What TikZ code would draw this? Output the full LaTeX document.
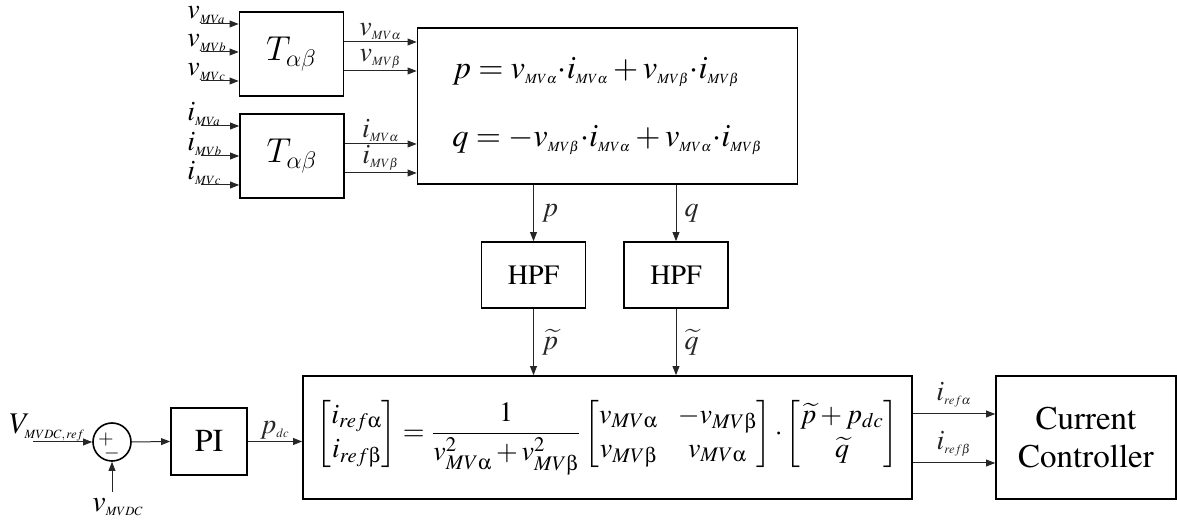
\documentclass[tikz,border=0pt]{standalone}
\usepackage{amsmath}
\usepackage{mathptmx}
\usepackage[T1]{fontenc}
\usetikzlibrary{arrows.meta}
\DeclareSymbolFont{cmletters}{OML}{cmm}{m}{it}
\DeclareMathSymbol{\cmT}{\mathalpha}{cmletters}{`T}
\DeclareMathSymbol{\cmalpha}{\mathord}{cmletters}{"0B}
\DeclareMathSymbol{\cmbeta}{\mathord}{cmletters}{"0C}
\DeclareSymbolFont{uprgreek}{U}{psy}{m}{n}
\DeclareMathSymbol{\ualpha}{\mathord}{uprgreek}{`a}
\DeclareMathSymbol{\ubeta}{\mathord}{uprgreek}{`b}
\newcommand{\tsub}[2][6.3]{_{\mbox{\fontsize{#1}{#1}\selectfont$#2$}}}

\begin{document}
\begin{tikzpicture}[
  x=0.5pt,y=-0.5pt,>={Triangle[length=4.5pt,width=3.4pt]},
  box/.style={rectangle,draw=black,line width=0.8pt,inner sep=2pt,align=center},
  edge/.style={->,line width=0.5pt,black!85},
  elabel/.style={inner sep=1pt,font=\fontsize{14}{16}\selectfont}
]
  \useasboundingbox (0,0) rectangle (1177,522);

  % Top row -- abc to alpha-beta
  \node[box,minimum width=52pt,minimum height=42pt,font=\fontsize{16}{18}\selectfont] (tv) at (291.5,54) {$\cmT_{\cmalpha\cmbeta}$};
  \node[box,minimum width=52pt,minimum height=42pt,font=\fontsize{16}{18}\selectfont] (ti) at (292,156) {$\cmT_{\cmalpha\cmbeta}$};
  \node[box,minimum width=190pt,minimum height=78pt,align=left,font=\fontsize{16.2}{19}\selectfont] (pq) at (607.5,106)
    {$p = v\tsub[7]{MV\alpha}{\cdot}i\tsub[7]{MV\alpha} + v\tsub[7]{MV\beta}{\cdot}i\tsub[7]{MV\beta}$\\[15pt]
     $q = -v\tsub[7]{MV\beta}{\cdot}i\tsub[7]{MV\alpha} + v\tsub[7]{MV\alpha}{\cdot}i\tsub[7]{MV\beta}$};

  % Middle row
  \node[box,minimum width=52pt,minimum height=33pt,font=\fontsize{14}{16}\selectfont] (hp) at (533.5,275) {HPF};
  \node[box,minimum width=52pt,minimum height=33pt,font=\fontsize{14}{16}\selectfont] (hq) at (676,275) {HPF};

  % Bottom row
  \node[circle,draw=black,line width=0.8pt,minimum size=19pt,inner sep=0pt] (sum) at (112,442) {};
  \node[box,minimum width=38pt,minimum height=33.5pt,font=\fontsize{16}{18}\selectfont] (pi) at (209,441.5) {PI};
  \node[box,minimum width=304.5pt,minimum height=61.5pt,font=\fontsize{14}{17}\selectfont] (ref) at (607.5,437.5)
    {$\displaystyle
     \begin{bmatrix} i_{ref\ualpha} \\ i_{ref\ubeta} \end{bmatrix}
     = \frac{1}{v_{MV\ualpha}^2 + v_{MV\ubeta}^2}
     \begin{bmatrix} v_{MV\ualpha} & -v_{MV\ubeta} \\ v_{MV\ubeta} & v_{MV\ualpha} \end{bmatrix}{\cdot}
     \begin{bmatrix} \widetilde{p} + p_{dc} \\ \widetilde{q} \end{bmatrix}$};
  \node[box,minimum width=90pt,minimum height=61.5pt,font=\fontsize{16.5}{19}\selectfont] (cc) at (1086,437.5) {Current\\Controller};

  % Inputs of the transforms
  \coordinate (va) at (201,24);  \coordinate (vb) at (201,52);  \coordinate (vc) at (201,81);
  \coordinate (ia) at (201,126); \coordinate (ib) at (201,156); \coordinate (ic) at (201,185);
  \draw[edge] (va) -- (va -| tv.west);
  \draw[edge] (vb) -- (vb -| tv.west);
  \draw[edge] (vc) -- (vc -| tv.west);
  \draw[edge] (ia) -- (ia -| ti.west);
  \draw[edge] (ib) -- (ib -| ti.west);
  \draw[edge] (ic) -- (ic -| ti.west);
  \node[elabel,anchor=base west,inner sep=0pt] at ([xshift=-7pt,yshift=2.5pt]va) {$v\tsub{MVa}$};
  \node[elabel,anchor=base west,inner sep=0pt] at ([xshift=-7pt,yshift=2.5pt]vb) {$v\tsub{MVb}$};
  \node[elabel,anchor=base west,inner sep=0pt] at ([xshift=-7pt,yshift=2.5pt]vc) {$v\tsub{MVc}$};
  \node[elabel,anchor=base west,inner sep=0pt] at ([xshift=-7pt,yshift=2.5pt]ia) {$i\tsub{MVa}$};
  \node[elabel,anchor=base west,inner sep=0pt] at ([xshift=-7pt,yshift=2.5pt]ib) {$i\tsub{MVb}$};
  \node[elabel,anchor=base west,inner sep=0pt] at ([xshift=-7pt,yshift=2.5pt]ic) {$i\tsub{MVc}$};

  % Top row arrows
  \draw[edge] ([yshift=6pt]tv.east)   -- ([yshift=6pt]tv.east -| pq.west)   node[midway,above,elabel]{$v\tsub{MV\alpha}$};
  \draw[edge] ([yshift=-8.5pt]tv.east) -- ([yshift=-8.5pt]tv.east -| pq.west) node[midway,above,elabel]{$v\tsub{MV\beta}$};
  \draw[edge] ([yshift=6pt]ti.east)   -- ([yshift=6pt]ti.east -| pq.west)   node[midway,above,elabel]{$i\tsub{MV\alpha}$};
  \draw[edge] ([yshift=-8.5pt]ti.east) -- ([yshift=-8.5pt]ti.east -| pq.west) node[midway,above,elabel]{$i\tsub{MV\beta}$};

  % Cross-row arrows
  \draw[edge] (pq.south -| hp.north) -- (hp.north) node[midway,right,elabel,xshift=3pt]{$p$};
  \draw[edge] (pq.south -| hq.north) -- (hq.north) node[midway,right,elabel,xshift=3pt]{$q$};
  \draw[edge] (hp.south) -- (hp.south |- ref.north) node[midway,right,elabel,xshift=3pt]{$\widetilde{p}$};
  \draw[edge] (hq.south) -- (hq.south |- ref.north) node[midway,right,elabel,xshift=3pt]{$\widetilde{q}$};

  % Bottom row arrows
  \coordinate (vref) at (33,442);
  \coordinate (vdc) at (112,492);
  \draw[edge] (vref) -- (sum.west);
  \draw[edge] (vdc) -- (sum.south);
  \node[elabel,anchor=base west,inner sep=0pt,font=\fontsize{15}{17}\selectfont] at ([xshift=-12pt,yshift=4pt]vref) {$V\tsub{MVDC,ref}$};
  \node[elabel,anchor=north,inner sep=0pt,font=\fontsize{15}{17}\selectfont] at ([xshift=3pt,yshift=-3pt]vdc) {$v\tsub{MVDC}$};
  \node[inner sep=0pt,font=\fontsize{10}{10}\selectfont] at ([xshift=-3pt,yshift=1pt]sum.center) {$+$};
  \node[inner sep=0pt,font=\fontsize{10}{10}\selectfont] at ([yshift=-6pt]sum.center) {$-$};
  \draw[edge] (sum.east) -- (pi.west);
  \draw[edge] (pi.east) -- (pi.east -| ref.west) node[midway,above,elabel]{$p\tsub{dc}$};
  \draw[edge] ([yshift=11.75pt]ref.east) -- ([yshift=11.75pt]ref.east -| cc.west) node[midway,above,elabel,yshift=2pt]{$i\tsub{ref\alpha}$};
  \draw[edge] ([yshift=-12.75pt]ref.east) -- ([yshift=-12.75pt]ref.east -| cc.west) node[midway,above,elabel,yshift=2pt]{$i\tsub{ref\beta}$};
\end{tikzpicture}
\end{document}
